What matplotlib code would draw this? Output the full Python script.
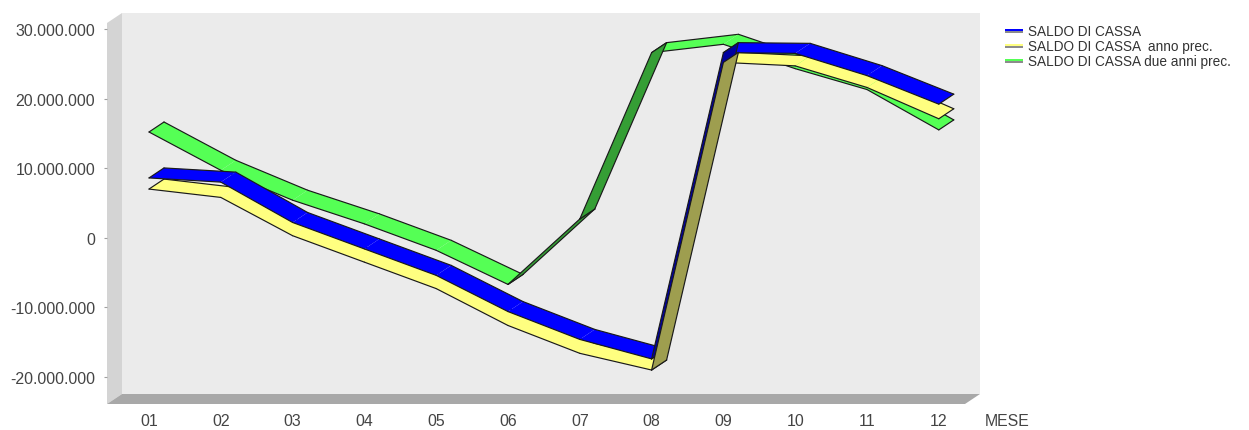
import matplotlib
matplotlib.use('Agg')
import matplotlib.pyplot as plt
import numpy as np
from matplotlib.patches import Polygon, Rectangle
from matplotlib.lines import Line2D
from matplotlib.colors import to_rgb

mesi = ['01', '02', '03', '04', '05', '06', '07', '08', '09', '10', '11', '12']
saldo_cassa = [8.6e6, 8.0e6, 2.2e6, -1.6e6, -5.4e6, -10.6e6, -14.6e6, -17.4e6,
               26.6e6, 26.5e6, 23.3e6, 19.2e6]
saldo_anno_prec = [7.0e6, 5.8e6, 0.3e6, -3.5e6, -7.3e6, -12.6e6, -16.6e6, -19.0e6,
                   25.2e6, 24.7e6, 21.6e6, 17.1e6]
saldo_due_anni_prec = [15.2e6, 9.7e6, 5.4e6, 2.0e6, -1.8e6, -6.7e6, 2.7e6, 26.6e6,
                       27.8e6, 24.3e6, 21.3e6, 15.5e6]
nomi_serie = ['SALDO DI CASSA', 'SALDO DI CASSA  anno prec.', 'SALDO DI CASSA due anni prec.']
colori = ['#0000FF', '#FFFF80', '#55FF55']
y_ticks = [-20e6, -10e6, 0, 10e6, 20e6, 30e6]

W, H = 1249, 431
fig = plt.figure(figsize=(W / 100, H / 100), dpi=100)
fig.patch.set_facecolor('white')

font_asse, size_asse = 'Liberation Sans', 11.4
font_leg = 'Liberation Sans'

# front face of the plot box in pixels, plus 3D depth offset
left, right, top, bottom = 107, 965, 24, 405
DX, DY = 15, 10
ax = fig.add_axes([left / W, 1 - bottom / H, (right - left) / W, (bottom - top) / H])
xmin, xmax = -0.585, 11.365
ymin, ymax = -23.88e6, 30.86e6
ax.set_xlim(xmin, xmax)
ax.set_ylim(ymin, ymax)
ax.set_facecolor('none')
for s in ax.spines.values():
    s.set_visible(False)

px_x = (right - left) / (xmax - xmin)
px_y = (bottom - top) / (ymax - ymin)
dx, dy = DX / px_x, DY / px_y
ox, oy = DX / (right - left), DY / (bottom - top)

# walls
ax.add_patch(Rectangle((ox, oy), 1, 1, transform=ax.transAxes, fc='#EBEBEB',
                       ec='none', clip_on=False, zorder=0))
ax.add_patch(Polygon([(0, 0), (ox, oy), (ox, 1 + oy), (0, 1)], transform=ax.transAxes,
                     fc='#D4D4D4', ec='none', clip_on=False, zorder=0.5))
ax.add_patch(Polygon([(0, 0), (1, 0), (1 + ox, oy), (ox, oy)], transform=ax.transAxes,
                     fc='#A8A8A8', ec='none', clip_on=False, zorder=0.5))


def darker(c, f=0.62):
    r, g, b = to_rgb(c)
    return (r * f, g * f, b * f)


def capovolto(y, j):
    # segment j-1 -> j seen from underneath (rises steeper than the depth offset)
    if j < 1 or j >= len(y):
        return False
    cross = px_x * DY - (y[j] - y[j - 1]) * px_y * DX
    return cross < 0


valori = [saldo_cassa, saldo_anno_prec, saldo_due_anni_prec]
x = np.arange(len(mesi))
edge = '#1a1a1a'
lw = 0.85

# top faces first (green, yellow, blue), then the steep undersides (blue, yellow, green)
segmenti = []
for s in [2, 1, 0]:
    for j in range(1, len(mesi)):
        if not capovolto(valori[s], j):
            segmenti.append((s, j))
for s in [0, 1, 2]:
    for j in range(1, len(mesi)):
        if capovolto(valori[s], j):
            segmenti.append((s, j))

z = 2
for s, j in segmenti:
    y = valori[s]
    x0, x1, y0, y1 = x[j - 1], x[j], y[j - 1], y[j]
    rovescio = capovolto(y, j)
    col = darker(colori[s]) if rovescio else colori[s]
    quad = [(x0, y0), (x1, y1), (x1 + dx, y1 + dy), (x0 + dx, y0 + dy)]
    ax.add_patch(Polygon(quad, fc=col, ec='none', clip_on=False, zorder=z))
    bordi = [([x0, x1], [y0, y1]), ([x0 + dx, x1 + dx], [y0 + dy, y1 + dy])]
    if j == 1 or rovescio or capovolto(y, j - 1):
        bordi.append(([x0, x0 + dx], [y0, y0 + dy]))
    if j == len(mesi) - 1 or rovescio or capovolto(y, j + 1):
        bordi.append(([x1, x1 + dx], [y1, y1 + dy]))
    for bx, by in bordi:
        ax.add_line(Line2D(bx, by, color=edge, lw=lw, clip_on=False,
                           solid_capstyle='round', zorder=z + 0.5))
    z += 1

ax.set_xticks(x)
ax.set_xticklabels(mesi, fontfamily=font_asse, fontsize=size_asse, color='#444444')
ax.tick_params(axis='x', length=0, pad=6.5)
ax.set_yticks(y_ticks)
ax.set_yticklabels([f'{int(v):,}'.replace(',', '.') for v in y_ticks],
                   fontfamily=font_asse, fontsize=size_asse, color='#444444')
ax.tick_params(axis='y', length=2.5, width=0.8, color='#A0A0A0', pad=6)

fig.text(985 / W, 1 - 422 / H, 'MESE', fontfamily=font_asse, fontsize=size_asse,
         color='#444444', ha='left', va='center')

# legend
for i, (nome, col) in enumerate(zip(nomi_serie, colori)):
    yc = 31.5 + i * 15
    fig.patches.append(Rectangle((1005 / W, 1 - (yc + 0.3) / H), 18 / W, 2.2 / H,
                                 transform=fig.transFigure, fc=col, ec='none'))
    fig.patches.append(Rectangle((1005 / W, 1 - (yc + 2.5) / H), 18 / W, 2.2 / H,
                                 transform=fig.transFigure, fc='#8C8C8C', ec='none'))
    fig.text(1028 / W, 1 - (yc + 0.5) / H, nome, fontfamily=font_leg, fontsize=9.8,
             color='#333333', ha='left', va='center')

fig.savefig('out.png', dpi=100)
